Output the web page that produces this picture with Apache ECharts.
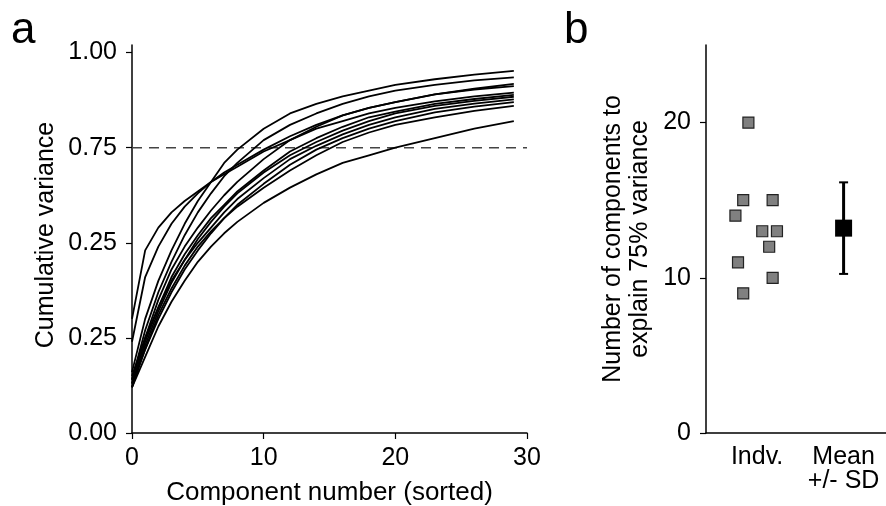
<!DOCTYPE html>
<html>
<head>
<meta charset="utf-8">
<script src="https://cdn.jsdelivr.net/npm/echarts@6/dist/echarts.min.js"></script>
<style>
  html, body { margin: 0; padding: 0; background: #fff; }
  #main { width: 886px; height: 506px; }
</style>
</head>
<body>
<div id="main"></div>
<script>
// panel a: cumulative variance per subject
var compX = [0, 1, 2, 3, 4, 5, 6, 7, 8, 10, 12, 14, 16, 18, 20, 23, 26, 29];
var curves = [
  [0.16, 0.30, 0.40, 0.48, 0.55, 0.61, 0.66, 0.71, 0.745, 0.80, 0.84, 0.865, 0.885, 0.90, 0.915, 0.93, 0.942, 0.952],
  [0.14, 0.27, 0.37, 0.45, 0.52, 0.58, 0.63, 0.675, 0.71, 0.77, 0.81, 0.84, 0.865, 0.885, 0.90, 0.915, 0.927, 0.935],
  [0.30, 0.48, 0.54, 0.58, 0.61, 0.635, 0.66, 0.68, 0.70, 0.74, 0.77, 0.80, 0.82, 0.84, 0.855, 0.872, 0.885, 0.895],
  [0.24, 0.41, 0.49, 0.55, 0.595, 0.63, 0.66, 0.685, 0.705, 0.745, 0.78, 0.81, 0.835, 0.855, 0.87, 0.89, 0.905, 0.918],
  [0.14, 0.25, 0.35, 0.43, 0.49, 0.54, 0.585, 0.625, 0.66, 0.72, 0.77, 0.805, 0.835, 0.855, 0.87, 0.89, 0.903, 0.912],
  [0.13, 0.24, 0.33, 0.41, 0.47, 0.52, 0.565, 0.60, 0.635, 0.69, 0.74, 0.775, 0.805, 0.83, 0.845, 0.865, 0.878, 0.889],
  [0.12, 0.23, 0.32, 0.395, 0.455, 0.51, 0.555, 0.595, 0.63, 0.685, 0.73, 0.765, 0.795, 0.82, 0.84, 0.86, 0.873, 0.884],
  [0.15, 0.25, 0.33, 0.40, 0.455, 0.50, 0.54, 0.58, 0.615, 0.67, 0.72, 0.755, 0.785, 0.81, 0.83, 0.852, 0.866, 0.877],
  [0.13, 0.22, 0.30, 0.37, 0.43, 0.48, 0.525, 0.565, 0.60, 0.655, 0.705, 0.745, 0.775, 0.80, 0.82, 0.843, 0.858, 0.870],
  [0.12, 0.22, 0.31, 0.38, 0.44, 0.49, 0.53, 0.565, 0.595, 0.645, 0.69, 0.73, 0.765, 0.79, 0.81, 0.83, 0.847, 0.860],
  [0.12, 0.20, 0.28, 0.345, 0.40, 0.45, 0.49, 0.525, 0.555, 0.605, 0.645, 0.68, 0.71, 0.73, 0.75, 0.775, 0.80, 0.82]
];
var threshold = 0.75;
var yTicksA = [0, 0.25, 0.5, 0.75, 1];
var yLabelsA = ['0.00', '0.25', '0.25', '0.75', '1.00'];

// panel b: components needed for 75% variance
var indvX = [0.90, 0.84, 1.18, 0.75, 1.06, 1.23, 1.14, 0.78, 1.18, 0.84];
var indvY = [20, 15, 15, 14, 13, 13, 12, 11, 10, 9];
var meanVal = 13.2;
var sdVal = 2.95;
var catPos = [1, 2];
var catLabels = ['Indv.', 'Mean\n+/- SD'];

var FONT = 'Liberation Sans';
var FS = 25;
var axisLine = { lineStyle: { color: '#000', width: 1.5 } };

var myChart = echarts.init(document.getElementById('main'));

var series = curves.map(function (c) {
  return {
    type: 'line',
    xAxisIndex: 0, yAxisIndex: 0,
    data: compX.map(function (x, i) { return [x, c[i]]; }),
    showSymbol: false,
    lineStyle: { color: '#000', width: 1.8 },
    silent: true
  };
});
series.push({
  type: 'line',
  xAxisIndex: 0, yAxisIndex: 0,
  data: [[0, threshold], [30, threshold]],
  showSymbol: false,
  lineStyle: { color: '#444', width: 1.5, type: [10, 7] },
  z: 1
});
series.push({
  type: 'scatter',
  xAxisIndex: 1, yAxisIndex: 1,
  data: indvX.map(function (x, i) { return [x, indvY[i]]; }),
  symbol: 'rect',
  symbolSize: 11,
  itemStyle: { color: '#808080', borderColor: '#222', borderWidth: 1.2, opacity: 1 }
});
series.push({
  type: 'custom',
  xAxisIndex: 1, yAxisIndex: 1,
  data: [[catPos[1], meanVal, sdVal]],
  renderItem: function (params, api) {
    var x = api.value(0), m = api.value(1), s = api.value(2);
    var hi = api.coord([x, m + s]);
    var lo = api.coord([x, m - s]);
    var st = { stroke: '#000', lineWidth: 3 };
    return {
      type: 'group',
      children: [
        { type: 'line', shape: { x1: hi[0], y1: hi[1], x2: lo[0], y2: lo[1] }, style: st },
        { type: 'line', shape: { x1: hi[0] - 4.5, y1: hi[1], x2: hi[0] + 4.5, y2: hi[1] }, style: { stroke: '#000', lineWidth: 2 } },
        { type: 'line', shape: { x1: lo[0] - 4.5, y1: lo[1], x2: lo[0] + 4.5, y2: lo[1] }, style: { stroke: '#000', lineWidth: 2 } }
      ]
    };
  }
});
series.push({
  type: 'scatter',
  xAxisIndex: 1, yAxisIndex: 1,
  data: [[catPos[1], meanVal]],
  symbol: 'rect',
  symbolSize: 17,
  itemStyle: { color: '#000', opacity: 1 },
  z: 5
});

myChart.setOption({
  animation: false,
  textStyle: { fontFamily: FONT },
  title: [
    { text: 'a', left: 11, top: 9, padding: 0, textStyle: { fontSize: 44, fontWeight: 'normal', color: '#000', fontFamily: FONT } },
    { text: 'b', left: 564, top: 9, padding: 0, textStyle: { fontSize: 44, fontWeight: 'normal', color: '#000', fontFamily: FONT } }
  ],
  grid: [
    { left: 132, right: 359, top: 45, bottom: 73, containLabel: false, outerBoundsMode: 'none' },
    { left: 706, right: 0, top: 45, bottom: 73, containLabel: false, outerBoundsMode: 'none' }
  ],
  xAxis: [
    {
      type: 'value', gridIndex: 0, min: 0, max: 30, interval: 10,
      name: 'Component number (sorted)', nameLocation: 'middle', nameGap: 47,
      nameTextStyle: { fontSize: 26, color: '#000', fontFamily: FONT },
      axisLine: axisLine,
      axisTick: { show: true, length: 6, lineStyle: { color: '#000', width: 1.2 } },
      axisLabel: { fontSize: FS, color: '#000', margin: 13, fontFamily: FONT },
      splitLine: { show: false }
    },
    {
      type: 'value', gridIndex: 1, min: 0.41, max: 2.49,
      axisLine: axisLine,
      axisTick: { show: false },
      axisLabel: {
        fontSize: FS, color: '#000', margin: 12, lineHeight: 24, fontFamily: FONT,
        customValues: catPos,
        formatter: function (v) { return catLabels[catPos.indexOf(v)] || ''; }
      },
      splitLine: { show: false }
    }
  ],
  yAxis: [
    {
      type: 'value', gridIndex: 0, min: 0, max: 1.02,
      name: 'Cumulative variance', nameLocation: 'middle', nameGap: 73, nameRotate: 90,
      nameTextStyle: { fontSize: 25, color: '#000', fontFamily: FONT, padding: [0, 0, 0, 8] },
      axisLine: axisLine,
      axisTick: { show: true, length: 6, customValues: yTicksA, lineStyle: { color: '#000', width: 1.2 } },
      axisLabel: {
        fontSize: FS, color: '#000', margin: 15, fontFamily: FONT,
        customValues: yTicksA,
        formatter: function (v) { return yLabelsA[yTicksA.indexOf(v)]; }
      },
      splitLine: { show: false }
    },
    {
      type: 'value', gridIndex: 1, min: 0, max: 25,
      name: 'Number of components to\nexplain 75% variance', nameLocation: 'middle', nameGap: 52, nameRotate: 90,
      nameTextStyle: { fontSize: FS, color: '#000', lineHeight: 27, fontFamily: FONT },
      axisLine: axisLine,
      axisTick: { show: true, length: 6, customValues: [0, 10, 20], lineStyle: { color: '#000', width: 1.2 } },
      axisLabel: { fontSize: FS, color: '#000', margin: 15, customValues: [0, 10, 20], fontFamily: FONT },
      splitLine: { show: false }
    }
  ],
  series: series
});
</script>
</body>
</html>
